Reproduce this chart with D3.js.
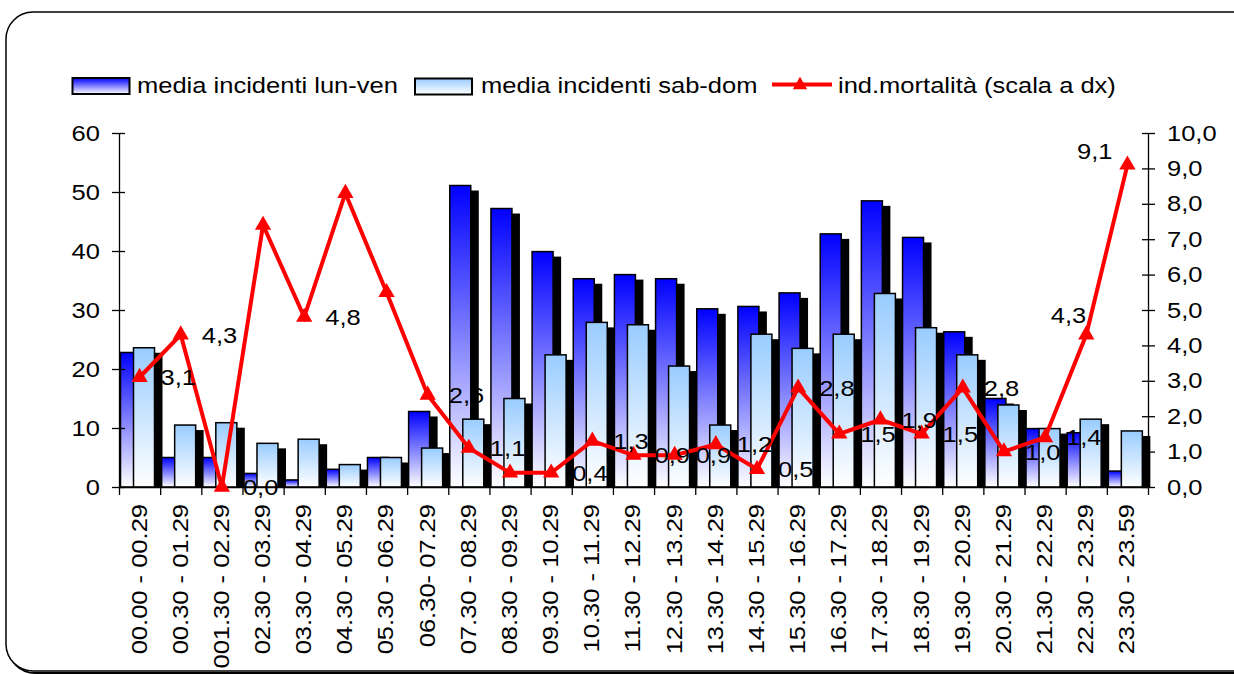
<html>
<head>
<meta charset="UTF-8">
<script src="https://d3js.org/d3.v7.min.js"></script>
<style>
    body { margin: 0; background: #fff; }
    text { font-family: "Liberation Sans", Arial, sans-serif; fill: #000; }
</style>
</head>
<body>
<svg width="1234" height="674" id="canvas"></svg>
<script>
    // fasce orarie
    var cats = ["00.00 - 00.29", "00.30 - 01.29", "001.30 - 02.29", "02.30 - 03.29", "03.30 - 04.29",
        "04.30 - 05.29", "05.30 - 06.29", "06.30- 07.29", "07.30 - 08.29", "08.30 - 09.29",
        "09.30 - 10.29", "10.30 - 11.29", "11.30 - 12.29", "12.30 - 13.29", "13.30 - 14.29",
        "14.30 - 15.29", "15.30 - 16.29", "16.30 - 17.29", "17.30 - 18.29", "18.30 - 19.29",
        "19.30 - 20.29", "20.30 - 21.29", "21.30 - 22.29", "22.30 - 23.29", "23.30 - 23.59"];

    var lunVen = [22.8, 5.0, 5.0, 2.3, 1.2, 3.0, 5.0, 12.8, 51.1, 47.2, 39.9, 35.3, 36.0,
        35.3, 30.2, 30.6, 32.9, 42.9, 48.5, 42.3, 26.3, 15.0, 9.9, 9.2, 2.7];
    var sabDom = [23.6, 10.5, 10.9, 7.4, 8.1, 3.8, 5.0, 6.6, 11.5, 15.0, 22.4, 27.9, 27.5,
        20.5, 10.5, 25.9, 23.5, 25.9, 32.8, 27.0, 22.4, 13.9, 9.9, 11.5, 9.5];
    var mortalita = [3.1, 4.3, 0.0, 7.4, 4.8, 8.3, 5.5, 2.6, 1.1, 0.4, 0.4, 1.3, 0.9,
        0.9, 1.2, 0.5, 2.8, 1.5, 1.9, 1.5, 2.8, 1.0, 1.4, 4.3, 9.1];

    var leftTicks = [0, 10, 20, 30, 40, 50, 60];
    var rightTicks = [0, 1, 2, 3, 4, 5, 6, 7, 8, 9, 10];
    var hiddenLabels = [3, 5, 6, 9];   // etichette non visibili nel grafico
    var legendNames = ["media incidenti lun-ven", "media incidenti sab-dom", "ind.mortalità (scala a dx)"];

    var svg = d3.select("#canvas");
    var pLeft = 119, pRight = 1148, pTop = 133, pBottom = 487;
    var FS = 22, SX = 1.16;

    var x = d3.scaleBand().domain(cats).range([pLeft, pRight]).padding(0);
    var xEdge = d3.scaleLinear().domain([0, cats.length]).range([pLeft, pRight]);
    var yL = d3.scaleLinear().domain([0, 60]).range([pBottom, pTop]);
    var yR = d3.scaleLinear().domain([0, 10]).range([pBottom, pTop]);
    var fmt = function (v) { return d3.format(".1f")(v).replace(".", ","); };

    // stretch text horizontally like the original
    function stretch(sel, k) {
        sel.each(function () {
            var t = d3.select(this);
            var tx = +t.attr("x") || 0, ty = +t.attr("y") || 0;
            t.attr("x", 0).attr("y", 0)
                .attr("transform", "translate(" + tx + "," + ty + ") scale(" + k + ",1)");
        });
    }

    var defs = svg.append("defs");
    function grad(id, c) {
        var g = defs.append("linearGradient").attr("id", id)
            .attr("x1", 0).attr("y1", 0).attr("x2", 0).attr("y2", 1);
        g.append("stop").attr("offset", "0%").attr("stop-color", c);
        g.append("stop").attr("offset", "100%").attr("stop-color", "#ffffff");
    }
    grad("gBlue", "#0000ff");
    grad("gLight", "#99ccff");

    // cornice
    svg.append("rect").attr("x", 8).attr("y", 14).attr("width", 1260).attr("height", 659)
        .attr("rx", 27).attr("fill", "none").attr("stroke", "#000").attr("stroke-width", 2);
    svg.append("rect").attr("x", 6).attr("y", 12).attr("width", 1260).attr("height", 659)
        .attr("rx", 27).attr("fill", "#fff").attr("stroke", "#000").attr("stroke-width", 1.5);

    // barre
    var bw = 21, dxS = 8, dyS = 5;
    var bars = svg.append("g");
    cats.forEach(function (c, i) {
        var s = x(c);
        var series = [[lunVen[i], s + 1.5, "url(#gBlue)"], [sabDom[i], s + 14.5, "url(#gLight)"]];
        series.forEach(function (d) {
            var yt = yL(d[0]);
            bars.append("rect").attr("x", d[1] + dxS).attr("y", Math.min(yt + dyS, pBottom))
                .attr("width", bw).attr("height", Math.max(0, pBottom - yt - dyS)).attr("fill", "#000");
            bars.append("rect").attr("x", d[1]).attr("y", yt)
                .attr("width", bw).attr("height", pBottom - yt)
                .attr("fill", d[2]).attr("stroke", "#000").attr("stroke-width", 1.5);
        });
    });

    // assi
    var gl = svg.append("g").attr("transform", "translate(" + pLeft + ",0)")
        .call(d3.axisLeft(yL).tickValues(leftTicks).tickSize(7).tickSizeOuter(0).tickPadding(12));
    gl.selectAll(".tick line").attr("x1", 6);
    var gr = svg.append("g").attr("transform", "translate(" + pRight + ",0)")
        .call(d3.axisRight(yR).tickValues(rightTicks).tickFormat(fmt).tickSize(7).tickSizeOuter(0).tickPadding(12));
    gr.selectAll(".tick line").attr("x1", -6);
    var gb = svg.append("g").attr("transform", "translate(0," + pBottom + ")")
        .call(d3.axisBottom(xEdge).tickValues(d3.range(cats.length + 1)).tickFormat("").tickSize(8).tickSizeOuter(0));
    [gl, gr, gb].forEach(function (g) {
        g.selectAll("path, line").attr("stroke", "#000").attr("stroke-width", 1.3);
        g.selectAll("text").attr("font-size", FS).attr("font-family", "Liberation Sans, Arial, sans-serif").attr("fill", "#000");
    });
    stretch(gl.selectAll("text"), SX);
    stretch(gr.selectAll("text"), SX);

    svg.append("g").selectAll("text").data(cats).enter().append("text")
        .attr("transform", function (d) { return "translate(" + (x(d) + x.bandwidth() / 2 - 1) + ",504) rotate(-90) scale(" + SX + ",1)"; })
        .attr("text-anchor", "end").attr("dy", "0.36em").attr("font-size", FS)
        .text(function (d) { return d; });

    // linea mortalità
    var cx = function (i) { return x(cats[i]) + x.bandwidth() / 2; };
    svg.append("path").datum(mortalita)
        .attr("fill", "none").attr("stroke", "#ff0000").attr("stroke-width", 4)
        .attr("stroke-linejoin", "miter")
        .attr("d", d3.line().x(function (d, i) { return cx(i); }).y(function (d) { return yR(d); }));
    svg.append("g").selectAll("path").data(mortalita).enter().append("path")
        .attr("transform", function (d, i) { return "translate(" + cx(i) + "," + yR(d) + ")"; })
        .attr("d", d3.symbol(d3.symbolTriangle, 115)).attr("fill", "#ff0000");

    // etichette
    var lab = svg.append("g");
    mortalita.forEach(function (v, i) {
        if (hiddenLabels.indexOf(i) >= 0) return;
        var px = cx(i) + 21, py = yR(v), anchor = "start";
        if (i == 23) { px = cx(i); py = yR(v) - 20; anchor = "end"; }
        if (i == 24) { px = cx(i) - 15; py = yR(v) - 14; anchor = "end"; }
        lab.append("text").attr("x", px).attr("y", py).attr("dy", "0.36em")
            .attr("text-anchor", anchor).attr("font-size", FS).text(fmt(v));
    });
    stretch(lab.selectAll("text"), SX);

    // legenda
    var leg = svg.append("g");
    leg.append("rect").attr("x", 72.5).attr("y", 78).attr("width", 57).attr("height", 16)
        .attr("fill", "url(#gBlue)").attr("stroke", "#000").attr("stroke-width", 2);
    leg.append("rect").attr("x", 415).attr("y", 78.5).attr("width", 57).attr("height", 16)
        .attr("fill", "url(#gLight)").attr("stroke", "#000").attr("stroke-width", 2);
    leg.append("line").attr("x1", 772).attr("x2", 832).attr("y1", 84.5).attr("y2", 84.5)
        .attr("stroke", "#ff0000").attr("stroke-width", 4);
    leg.append("path").attr("transform", "translate(800,85)")
        .attr("d", d3.symbol(d3.symbolTriangle, 90)).attr("fill", "#ff0000");
    var lx = [137, 481, 838];
    leg.selectAll("text").data(legendNames).enter().append("text")
        .attr("x", function (d, i) { return lx[i]; }).attr("y", 93)
        .attr("font-size", FS).text(function (d) { return d; });
    stretch(leg.selectAll("text"), SX);
</script>
</body>
</html>
